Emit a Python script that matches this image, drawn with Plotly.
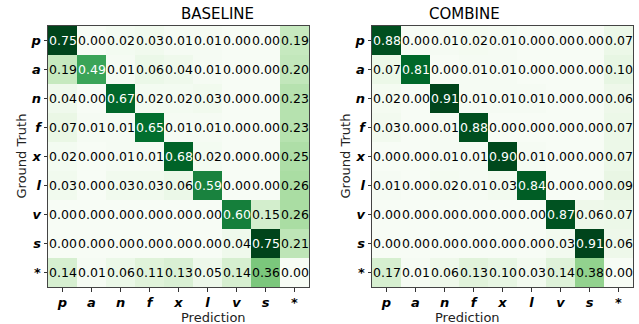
import plotly.graph_objects as go

labels = ["p", "a", "n", "f", "x", "l", "v", "s", "*"]
tick_text = ["<b><i>p</i></b>", "<b><i>a</i></b>", "<b><i>n</i></b>", "<b><i>f</i></b>",
             "<b><i>x</i></b>", "<b><i>l</i></b>", "<b><i>v</i></b>", "<b><i>s</i></b>", "<b>*</b>"]

baseline = [
    [0.75, 0.00, 0.02, 0.03, 0.01, 0.01, 0.00, 0.00, 0.19],
    [0.19, 0.49, 0.01, 0.06, 0.04, 0.01, 0.00, 0.00, 0.20],
    [0.04, 0.00, 0.67, 0.02, 0.02, 0.03, 0.00, 0.00, 0.23],
    [0.07, 0.01, 0.01, 0.65, 0.01, 0.01, 0.00, 0.00, 0.23],
    [0.02, 0.00, 0.01, 0.01, 0.68, 0.02, 0.00, 0.00, 0.25],
    [0.03, 0.00, 0.03, 0.03, 0.06, 0.59, 0.00, 0.00, 0.26],
    [0.00, 0.00, 0.00, 0.00, 0.00, 0.00, 0.60, 0.15, 0.26],
    [0.00, 0.00, 0.00, 0.00, 0.00, 0.00, 0.04, 0.75, 0.21],
    [0.14, 0.01, 0.06, 0.11, 0.13, 0.05, 0.14, 0.36, 0.00],
]

combine = [
    [0.88, 0.00, 0.01, 0.02, 0.01, 0.00, 0.00, 0.00, 0.07],
    [0.07, 0.81, 0.00, 0.01, 0.01, 0.00, 0.00, 0.00, 0.10],
    [0.02, 0.00, 0.91, 0.01, 0.01, 0.01, 0.00, 0.00, 0.06],
    [0.03, 0.00, 0.01, 0.88, 0.00, 0.00, 0.00, 0.00, 0.07],
    [0.00, 0.00, 0.01, 0.01, 0.90, 0.01, 0.00, 0.00, 0.07],
    [0.01, 0.00, 0.02, 0.01, 0.03, 0.84, 0.00, 0.00, 0.09],
    [0.00, 0.00, 0.00, 0.00, 0.00, 0.00, 0.87, 0.06, 0.07],
    [0.00, 0.00, 0.00, 0.00, 0.00, 0.00, 0.03, 0.91, 0.06],
    [0.17, 0.01, 0.06, 0.13, 0.10, 0.03, 0.14, 0.38, 0.00],
]

titles = ["BASELINE", "COMBINE"]

greens = ["#f7fcf5", "#e5f5e0", "#c7e9c0", "#a1d99b", "#74c476",
          "#41ab5d", "#238b45", "#006d2c", "#00441b"]
colorscale = [[i / 8, c] for i, c in enumerate(greens)]

W, H = 639, 324
x_domains = [[48 / W, 309 / W], [372 / W, 633 / W]]
y_domain = [1 - 287 / H, 1 - 26 / H]

fig = go.Figure()
annotations = []
font_family = "DejaVu Sans"

for k, (mat, title) in enumerate([(baseline, titles[0]), (combine, titles[1])]):
    xa = "x" if k == 0 else "x2"
    ya = "y" if k == 0 else "y2"
    vmax = max(max(r) for r in mat)
    fig.add_trace(go.Heatmap(
        z=mat, x=list(range(9)), y=list(range(9)),
        colorscale=colorscale, zmin=0, zmax=vmax, showscale=False,
        xaxis=xa, yaxis=ya, hoverinfo="skip", xgap=0, ygap=0,
    ))
    thresh = vmax / 2
    for i, row in enumerate(mat):
        for j, v in enumerate(row):
            annotations.append(dict(
                x=j, y=i, xref=xa, yref=ya, text=f"{v:.2f}", showarrow=False,
                font=dict(family=font_family, size=12.5,
                          color="white" if v > thresh else "black"),
            ))
    cx = (x_domains[k][0] + x_domains[k][1]) / 2
    annotations.append(dict(x=cx, y=1 - 14 / H, xref="paper", yref="paper",
                            text=title, showarrow=False, yanchor="middle",
                            font=dict(family=font_family, size=15, color="black")))
    annotations.append(dict(x=cx, y=1 - 317 / H, xref="paper", yref="paper",
                            text="Prediction", showarrow=False, yanchor="middle",
                            font=dict(family=font_family, size=13, color="#222")))
    annotations.append(dict(x=(x_domains[k][0] * W - 27) / W, y=(y_domain[0] + y_domain[1]) / 2,
                            xref="paper", yref="paper", textangle=-90,
                            text="Ground Truth", showarrow=False, xanchor="center",
                            font=dict(family=font_family, size=13, color="#222")))

axis_common = dict(
    tickmode="array", tickvals=list(range(9)), ticktext=tick_text,
    ticks="outside", ticklen=3.5, tickcolor="#333", tickwidth=1,
    showline=True, linecolor="#444", linewidth=1, mirror=True,
    showgrid=False, zeroline=False, automargin=False,
    tickfont=dict(family=font_family, size=13, color="black"),
)

fig.update_layout(
    width=W, height=H, margin=dict(l=0, r=0, t=0, b=0, autoexpand=False),
    paper_bgcolor="white", plot_bgcolor="white",
    annotations=annotations,
    xaxis=dict(domain=x_domains[0], anchor="y", range=[-0.5, 8.5], **axis_common),
    yaxis=dict(domain=y_domain, anchor="x", range=[8.5, -0.5], **axis_common),
    xaxis2=dict(domain=x_domains[1], anchor="y2", range=[-0.5, 8.5], **axis_common),
    yaxis2=dict(domain=y_domain, anchor="x2", range=[8.5, -0.5], **axis_common),
)

fig.write_html("out.html", config={"displayModeBar": False},
               post_script="document.body.style.margin='0';")
